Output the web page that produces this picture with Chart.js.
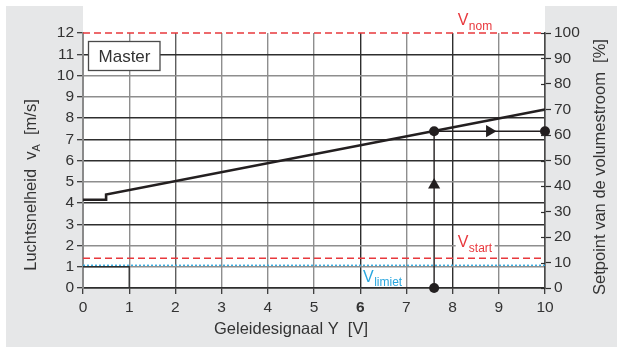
<!DOCTYPE html>
<html><head><meta charset="utf-8">
<script src="https://cdn.jsdelivr.net/npm/chart.js@4"></script>
<style>html,body{margin:0;padding:0;background:#fff;overflow:hidden}</style>
</head><body>
<canvas id="c" width="617" height="347" style="display:block;width:617px;height:347px"></canvas>
<script>
// ---- data ----
const xTickValues = [0,1,2,3,4,5,6,7,8,9,10];       // Geleidesignaal Y [V]
const speedTickValues = [0,1,2,3,4,5,6,7,8,9,10,11,12]; // v_A [m/s]
const percentTickValues = [0,10,20,30,40,50,60,70,80,90,100];
const curveSignal = [0, 0.5, 0.5, 10];
const curveSpeed  = [4.15, 4.15, 4.4, 8.4];
const guideSignal = [7.6, 7.6, 10];
const guideSpeed  = [0, 7.38, 7.38];
const markerSignal = [7.6, 7.6, 10];
const markerSpeed  = [0, 7.38, 7.38];
const arrowUpSignal = [7.6];
const arrowUpSpeed  = [4.85];
const arrowRightSignal = [8.8];
const arrowRightSpeed  = [7.38];
const cornerSignal = [0, 1, 1];
const cornerSpeed  = [1, 1, 0];
const vNom = 12;
const vStart = 1.4;
const vLimiet = 1.07;
const lineSpan = [0, 10];

// ---- styles ----
const FONT = '"Liberation Sans", Arial, sans-serif';
const TEXT = '#333333';
const DARK = '#2e2e2e';
const GRAY = '#8e8e8e';
const RED = '#e8383d';
const BLUE = '#2aa7df';
const darkVertical = new Set([6, 8]);
const midVertical = new Set([2]);
const darkHorizontal = new Set([0, 3, 4, 6, 7, 8, 11]);

const pts = (xs, ys) => xs.map((x, i) => ({x, y: ys[i]}));
const flat = (v) => pts(lineSpan, lineSpan.map(() => v));

function richText(ctx, segs, cx, cy, rot) {
  ctx.save();
  ctx.translate(cx, cy);
  ctx.rotate(rot);
  let total = 0;
  segs.forEach(s => { ctx.font = (s.weight || '') + ' ' + s.size + 'px ' + FONT; s.w = ctx.measureText(s.t).width; total += s.w; });
  let x = -total / 2;
  ctx.textAlign = 'left';
  ctx.textBaseline = 'alphabetic';
  segs.forEach(s => {
    ctx.font = (s.weight || '') + ' ' + s.size + 'px ' + FONT;
    ctx.fillStyle = s.color || TEXT;
    ctx.fillText(s.t, x, s.dy || 0);
    x += s.w;
  });
  ctx.restore();
}

function subLabel(ctx, x, y, main, sub, color, bg) {
  ctx.save();
  ctx.textAlign = 'left';
  ctx.textBaseline = 'alphabetic';
  ctx.font = '16px ' + FONT;
  const w1 = ctx.measureText(main).width;
  ctx.font = '12px ' + FONT;
  const w2 = ctx.measureText(sub).width;
  if (bg) {
    ctx.fillStyle = '#ffffff';
    ctx.fillRect(x - 2, y - 12, w1 + w2 + 5, 17);
  }
  ctx.fillStyle = color;
  ctx.font = '16px ' + FONT;
  ctx.fillText(main, x, y);
  ctx.font = '12px ' + FONT;
  ctx.fillText(sub, x + w1 + 0.5, y + 4.5);
  ctx.restore();
}

const decor = {
  id: 'decor',
  beforeDraw(chart) {
    const {ctx, chartArea: a} = chart;
    ctx.save();
    ctx.fillStyle = '#e6e7e8';
    ctx.fillRect(6, 6, chart.width - 6, chart.height - 6);
    ctx.fillStyle = '#ffffff';
    ctx.fillRect(a.left, 6, a.right - a.left, a.bottom - 6);
    ctx.restore();
  },
  afterDatasetsDraw(chart) {
    const {ctx, chartArea: a, scales} = chart;
    const xs = scales.x, ys = scales.y, ps = scales.y2;
    // inner part of right ticks
    ctx.save();
    ctx.strokeStyle = DARK;
    ctx.lineWidth = 1.2;
    percentTickValues.forEach(v => {
      const y = Math.round(ps.getPixelForValue(v)) + 0.5;
      ctx.beginPath(); ctx.moveTo(a.right - 4, y); ctx.lineTo(a.right, y); ctx.stroke();
    });
    ctx.restore();
    // Master box
    ctx.save();
    const bx = a.left + 5.5, by = a.top + 8.5;
    ctx.fillStyle = '#fff';
    ctx.fillRect(bx, by, 71.5, 29);
    ctx.strokeStyle = '#4a4a4a';
    ctx.lineWidth = 1.3;
    ctx.strokeRect(bx, by, 71.5, 29);
    ctx.fillStyle = TEXT;
    ctx.font = '17px ' + FONT;
    ctx.textAlign = 'center';
    ctx.textBaseline = 'alphabetic';
    ctx.fillText('Master', bx + 36, by + 20.5);
    ctx.restore();
    // reference line labels
    subLabel(ctx, xs.getPixelForValue(8.11), ys.getPixelForValue(vNom) - 8, 'V', 'nom', RED, false);
    subLabel(ctx, xs.getPixelForValue(8.11), ys.getPixelForValue(vStart) - 11, 'V', 'start', RED, true);
    subLabel(ctx, xs.getPixelForValue(6.06), ys.getPixelForValue(vLimiet) + 16.5, 'V', 'limiet', BLUE, false);
    // axis titles
    richText(ctx, [{t: 'Luchtsnelheid  v', size: 16.5}, {t: 'A', size: 11, dy: 4}, {t: '  [m/s]', size: 16.5}], 35.5, 185, -Math.PI / 2);
    richText(ctx, [{t: 'Setpoint van de volumestroom  [%]', size: 16.5}], 604.5, 167, -Math.PI / 2);
    richText(ctx, [{t: 'Geleidesignaal Y  [V]', size: 16.5}], 291, 334, 0);
  }
};

const lineDs = (data, color, width, dash) => ({
  data, showLine: true, borderColor: color, borderWidth: width, borderDash: dash || [],
  pointRadius: 0, pointHoverRadius: 0, fill: false, tension: 0, clip: false
});

const chart = new Chart(document.getElementById('c'), {
  type: 'scatter',
  data: {
    datasets: [
      lineDs(pts(cornerSignal, cornerSpeed), DARK, 1.3),
      lineDs(flat(vLimiet), BLUE, 1.3, [2, 2]),
      lineDs(flat(vStart), RED, 1.3, [7, 4]),
      lineDs(flat(vNom), RED, 1.3, [7, 4]),
      lineDs(pts(guideSignal, guideSpeed), '#231f20', 1.4),
      lineDs(pts(curveSignal, curveSpeed), '#231f20', 2.6),
      {data: pts(markerSignal, markerSpeed), pointRadius: 5, pointBackgroundColor: '#231f20', pointBorderWidth: 0, showLine: false, clip: false},
      {data: pts(arrowUpSignal, arrowUpSpeed), pointStyle: 'triangle', pointRadius: 7, pointBackgroundColor: '#231f20', pointBorderWidth: 0, showLine: false, clip: false},
      {data: pts(arrowRightSignal, arrowRightSpeed), pointStyle: 'triangle', rotation: 90, pointRotation: 90, pointRadius: 7, pointBackgroundColor: '#231f20', pointBorderWidth: 0, showLine: false, clip: false}
    ]
  },
  options: {
    responsive: false,
    animation: false,
    devicePixelRatio: 1,
    events: [],
    layout: {padding: {top: 33, left: 0, right: 0, bottom: 0}},
    plugins: {legend: {display: false}, tooltip: {enabled: false}},
    scales: {
      x: {
        type: 'linear', position: 'bottom', min: 0, max: 10,
        afterBuildTicks: s => { s.ticks = xTickValues.map(v => ({value: v})); },
        afterFit: s => { s.height = 59; },
        ticks: {
          color: TEXT, padding: 4, autoSkip: false, maxRotation: 0,
          font: c => ({family: FONT, size: 15.5, weight: (c.tick && c.tick.value === 6) ? 'bold' : 'normal'})
        },
        grid: {
          color: c => { const v = c.tick ? c.tick.value : -1; return darkVertical.has(v) ? DARK : midVertical.has(v) ? '#5e5e5e' : GRAY; },
          lineWidth: 1.4, tickLength: 6, tickColor: DARK, tickWidth: 1.2
        },
        border: {display: true, color: DARK, width: 1.5}
      },
      y: {
        type: 'linear', position: 'left', min: 0, max: 12,
        afterBuildTicks: s => { s.ticks = speedTickValues.map(v => ({value: v})); },
        afterFit: s => { s.width = 83; },
        ticks: {color: TEXT, padding: 3, autoSkip: false, font: {family: FONT, size: 15.5}},
        grid: {
          color: c => { const v = c.tick ? c.tick.value : -1; return v === 12 ? 'rgba(0,0,0,0)' : darkHorizontal.has(v) ? DARK : GRAY; },
          lineWidth: 1.4, tickLength: 6, tickColor: DARK, tickWidth: 1.2
        },
        border: {display: true, color: '#8a8a8a', width: 2}
      },
      y2: {
        type: 'linear', position: 'right', min: 0, max: 100,
        afterBuildTicks: s => { s.ticks = percentTickValues.map(v => ({value: v})); },
        afterFit: s => { s.width = 72; },
        ticks: {color: TEXT, padding: 3, autoSkip: false, font: {family: FONT, size: 15.5}},
        grid: {drawOnChartArea: false, tickLength: 6, tickColor: DARK, tickWidth: 1.2},
        border: {display: true, color: '#4a4a4a', width: 1.6}
      }
    }
  },
  plugins: [decor]
});
</script>
</body></html>
